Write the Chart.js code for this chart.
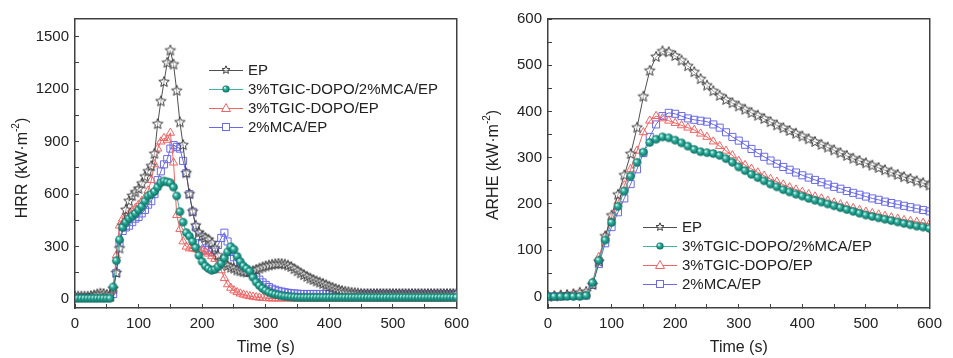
<!DOCTYPE html>
<html>
<head>
<meta charset="utf-8">
<script src="https://cdn.jsdelivr.net/npm/chart.js@4/dist/chart.umd.min.js"></script>
<style>
  html, body { margin:0; padding:0; background:#fff; }
  #wrap { position:relative; width:953px; height:358px; }
  #hrrBox { position:absolute; left:0; top:0; width:480px; height:358px; }
  #arheBox { position:absolute; left:480px; top:0; width:473px; height:358px; }
</style>
</head>
<body>
<div id="wrap">
  <div id="hrrBox"><canvas id="hrrChart"></canvas></div>
  <div id="arheBox"><canvas id="arheChart"></canvas></div>
</div>
<script>
/* DATA */

const seriesNames = ["EP", "3%TGIC-DOPO/2%MCA/EP", "3%TGIC-DOPO/EP", "2%MCA/EP"];

const hrrTime = [
  0,5,10,15,20,25,30,35,40,45,50,55,60,65,70,75,80,85,90,95,
  100,105,110,115,120,125,130,135,140,145,150,155,160,165,170,175,180,185,190,195,
  200,205,210,215,220,225,230,235,240,245,250,255,260,265,270,275,280,285,290,295,
  300,305,310,315,320,325,330,335,340,345,350,355,360,365,370,375,380,385,390,395,
  400,405,410,415,420,425,430,435,440,445,450,455,460,465,470,475,480,485,490,495,
  500,505,510,515,520,525,530,535,540,545,550,555,560,565,570,575,580,585,590,595,
  600
];

const hrrEP = [
  15,15,15,15,15,18,22,28,32,30,25,22,60,150,290,420,510,560,590,610,
  630,660,700,730,760,830,1000,1130,1240,1350,1420,1340,1190,1010,880,720,600,500,420,380,
  360,350,340,320,290,250,220,200,190,180,175,165,160,155,152,155,160,168,175,182,
  188,193,197,200,202,201,198,192,184,172,160,148,138,128,118,110,102,95,88,80,
  72,65,58,52,47,43,40,37,35,33,31,30,30,30,30,30,30,30,30,30,
  30,30,30,30,30,30,30,30,30,30,30,30,30,30,30,30,30,30,30,30,
  30
];

const hrrBoth = [
  5,5,5,5,5,5,5,5,5,5,5,5,70,220,340,410,440,460,475,490,
  510,530,560,590,600,615,640,665,675,670,665,640,590,500,440,380,360,330,295,250,
  215,190,175,165,170,185,205,235,270,300,285,245,215,190,175,160,125,98,78,62,
  50,40,33,28,24,20,17,15,13,12,11,10,10,10,10,10,10,10,10,10,
  10,10,10,10,10,10,10,10,10,10,10,10,10,10,10,10,10,10,10,10,
  10,10,10,10,10,10,10,10,10,10,10,10,10,10,10,10,10,10,10,10,
  10
];

const hrrTgic = [
  3,3,3,3,3,3,3,3,3,3,3,3,60,250,420,460,475,490,505,520,
  540,560,580,620,680,770,860,900,920,910,950,780,480,400,330,300,290,290,285,280,
  275,270,260,245,230,200,165,120,85,65,50,40,32,26,21,17,14,11,9,7,
  6,5,4,4,4,4,4,4,4,4,4,4,4,4,4,4,4,4,4,4,
  4,4,4,4,4,4,4,4,4,4,4,4,4,4,4,4,4,4,4,4,
  4,4,4,4,4,4,4,4,4,4,4,4,4,4,4,4,4,4,4,4,
  4
];

const hrrMca = [
  10,10,10,10,10,10,10,10,10,10,10,10,30,150,320,390,410,420,440,460,
  470,490,510,540,560,600,680,730,770,800,860,880,870,860,790,720,600,500,410,360,
  320,290,280,270,280,310,350,380,330,270,240,210,190,170,160,150,140,128,112,96,
  82,70,60,54,48,44,40,37,35,33,32,30,30,30,30,30,30,30,30,30,
  30,30,30,30,30,30,30,30,30,30,30,30,30,30,30,30,30,30,30,30,
  30,30,30,30,30,30,30,30,30,30,30,30,30,30,30,30,30,30,30,30,
  30
];

const arheTime = [
  0,10,20,30,40,50,60,70,80,90,100,110,120,130,140,150,160,170,180,190,
  200,210,220,230,240,250,260,270,280,290,300,310,320,330,340,350,360,370,380,390,
  400,410,420,430,440,450,460,470,480,490,500,510,520,530,540,550,560,570,580,590,
  600
];

const arheEP = [
  0,0,2,3,5,8,10,25,75,130,175,220,262,308,365,432,488,518,530,528,
  520,510,498,485,470,456,444,434,425,418,411,404,397,391,384,377,370,364,358,352,
  346,340,334,328,322,316,310,304,298,293,288,283,278,273,268,263,258,254,249,245,
  240
];

const arheBoth = [
  0,0,0,0,0,0,2,30,78,122,160,195,228,260,290,312,333,340,345,343,
  338,332,325,318,313,311,309,305,298,290,280,272,264,257,250,243,237,231,226,221,
  217,212,208,204,200,196,192,188,184,180,176,173,170,167,164,161,158,155,152,150,
  147
];

const arheTgic = [
  2,2,3,3,4,4,5,30,85,130,170,205,240,275,315,355,380,390,385,380,
  375,370,365,360,352,345,335,325,315,305,293,284,276,268,261,254,248,242,236,231,
  226,221,216,212,207,203,199,195,191,187,183,180,177,174,171,168,165,163,161,159,
  157
];

const arheMca = [
  0,0,0,1,1,2,2,25,70,115,150,182,212,243,275,310,345,372,390,397,
  395,390,385,382,380,378,372,365,355,345,337,328,319,310,302,294,287,280,274,268,
  262,257,252,247,242,237,233,228,224,220,216,212,209,205,202,199,196,193,190,187,
  184
];

const timeTicks = [0, 100, 200, 300, 400, 500, 600];
const hrrTicks = [0, 300, 600, 900, 1200, 1500];
const arheTicks = [0, 100, 200, 300, 400, 500, 600];

/* MARKERS */

const FONT = "'Liberation Sans', Arial, sans-serif";
const TEXT = "#222";
const FRAME = "#404040";

function starImage(r){
  const c = document.createElement("canvas");
  const s = Math.ceil(r*2+3);
  c.width = s; c.height = s;
  const ctx = c.getContext("2d");
  ctx.strokeStyle = "#3a3a3a";
  ctx.lineWidth = 1;
  ctx.beginPath();
  for(let i=0;i<10;i++){
    const a = -Math.PI/2 + i*Math.PI/5;
    const rr = i%2 ? r*0.45 : r;
    const x = s/2 + rr*Math.cos(a);
    const y = s/2 + rr*Math.sin(a);
    i ? ctx.lineTo(x,y) : ctx.moveTo(x,y);
  }
  ctx.closePath();
  ctx.fillStyle = "rgba(255,255,255,0.5)";
  ctx.fill();
  ctx.stroke();
  return c;
}

function ballImage(r){
  const c = document.createElement("canvas");
  const s = Math.ceil(r*2+2);
  c.width = s; c.height = s;
  const ctx = c.getContext("2d");
  const g = ctx.createRadialGradient(s/2-r*0.35, s/2-r*0.35, r*0.1, s/2, s/2, r);
  g.addColorStop(0, "#d8fbf3");
  g.addColorStop(0.35, "#2fb1a0");
  g.addColorStop(1, "#0b6b5f");
  ctx.fillStyle = g;
  ctx.beginPath();
  ctx.arc(s/2, s/2, r, 0, Math.PI*2);
  ctx.fill();
  return c;
}

const starBig = starImage(5.5);
const starSmall = starImage(4.2);
const ballBig = ballImage(4.3);
const ballSmall = ballImage(3.6);

const styles = [
  { line:"#505050", pointStyle:starBig, legendImg:starSmall, radius:5, fill:"transparent", order:1 },
  { line:"#3fb3a4", pointStyle:ballBig, legendImg:ballSmall, radius:4.3, fill:"transparent", order:0 },
  { line:"#f06464", pointStyle:"triangle", radius:4.8, fill:"rgba(255,255,255,0)", order:2 },
  { line:"#6a6ae8", pointStyle:"rect", radius:5, fill:"rgba(255,255,255,0)", order:3 }
];

function buildDatasets(time, series){
  return series.map((vals, i) => ({
    label: seriesNames[i],
    data: vals.map((v, k) => ({ x: time[k], y: v })),
    borderColor: styles[i].line,
    borderWidth: 1,
    pointStyle: styles[i].pointStyle,
    pointRadius: styles[i].radius,
    pointBorderColor: styles[i].line,
    pointBackgroundColor: styles[i].fill,
    pointBorderWidth: 1,
    tension: 0,
    order: styles[i].order
  }));
}

// major ticks plus a minor tick halfway between each pair
function withMinors(major){
  const out = [];
  major.forEach((v, i) => {
    out.push({ value: v });
    if(i < major.length - 1) out.push({ value: (v + major[i+1]) / 2 });
  });
  return out;
}

/* DECORATION (y title, legend) */

function drawYTitle(chart, t){
  const ctx = chart.ctx;
  ctx.save();
  ctx.translate(t.x, t.y);
  ctx.rotate(-Math.PI/2);
  ctx.fillStyle = TEXT;
  const main = "16px " + FONT;
  const sup = "10px " + FONT;
  ctx.font = main;
  const p1 = t.text + " (kW\u00b7m";
  const w1 = ctx.measureText(p1).width;
  ctx.font = sup;
  const w2 = ctx.measureText("-2").width;
  ctx.font = main;
  const w3 = ctx.measureText(")").width;
  let x = -(w1 + w2 + w3)/2;
  ctx.textBaseline = "middle";
  ctx.fillText(p1, x, 0);
  x += w1;
  ctx.font = sup;
  ctx.fillText("-2", x, -7);
  x += w2;
  ctx.font = main;
  ctx.fillText(")", x, 0);
  ctx.restore();
}

function drawLegend(chart, L){
  const ctx = chart.ctx;
  ctx.save();
  chart.data.datasets.forEach((ds, i) => {
    const y = L.y + i*L.dy;
    const st = styles[i];
    ctx.strokeStyle = st.line;
    ctx.lineWidth = 1;
    ctx.beginPath();
    ctx.moveTo(L.x1, y + 0.5);
    ctx.lineTo(L.x2, y + 0.5);
    ctx.stroke();
    const mx = (L.x1 + L.x2)/2;
    if(st.legendImg){
      const im = st.legendImg;
      ctx.drawImage(im, Math.round(mx - im.width/2), Math.round(y - im.height/2));
    } else if(st.pointStyle === "triangle"){
      ctx.fillStyle = "#fff";
      ctx.beginPath();
      ctx.moveTo(mx, y - 4.5);
      ctx.lineTo(mx + 4.5, y + 3.5);
      ctx.lineTo(mx - 4.5, y + 3.5);
      ctx.closePath();
      ctx.fill();
      ctx.stroke();
    } else {
      ctx.fillStyle = "#fff";
      ctx.fillRect(mx - 3.5, y - 3.5, 7, 7);
      ctx.strokeRect(mx - 3.5, y - 3.5, 7, 7);
    }
    ctx.fillStyle = TEXT;
    ctx.font = "15px " + FONT;
    ctx.textBaseline = "middle";
    ctx.fillText(ds.label, L.textX, y + 1);
  });
  ctx.restore();
}

/* CHARTS */

function makeChart(id, cfg){
  const border = { display: true, color: FRAME, width: 1.5 };
  // tick marks drawn by Chart.js itself, pointing into the plot
  const innerTicks = { display: true, drawOnChartArea: false, drawTicks: true,
                       tickLength: -4, color: FRAME, tickColor: FRAME, tickWidth: 1 };
  return new Chart(document.getElementById(id), {
    type: "line",
    data: { datasets: buildDatasets(cfg.time, cfg.series) },
    options: {
      responsive: true,
      maintainAspectRatio: false,
      animation: false,
      layout: { padding: { top: 18, right: cfg.padRight, left: 0, bottom: 0 } },
      plugins: {
        legend: { display: false },
        tooltip: { enabled: false }
      },
      scales: {
        x: {
          type: "linear",
          position: "bottom",
          min: 0,
          max: 600,
          afterBuildTicks: s => { s.ticks = withMinors(timeTicks); },
          afterFit: s => { s.height = 50; },
          grid: innerTicks,
          border: border,
          ticks: { color: TEXT, font: { family: FONT, size: 15 }, padding: 11, maxRotation: 0,
                   autoSkip: false,
                   callback: v => timeTicks.includes(v) ? String(v) : "" },
          title: { display: true, text: "Time (s)", color: TEXT,
                   font: { family: FONT, size: 16 }, padding: { top: 0, bottom: 1 } }
        },
        y: {
          position: "left",
          min: cfg.yMin,
          max: cfg.yMax,
          afterBuildTicks: s => { s.ticks = withMinors(cfg.yTicks); },
          afterFit: s => { s.width = cfg.yWidth; },
          grid: innerTicks,
          border: border,
          ticks: { color: TEXT, font: { family: FONT, size: 15 }, padding: 10,
                   autoSkip: false,
                   callback: v => cfg.yTicks.includes(v) ? String(v) : "" }
        },
        xTop: {
          type: "linear",
          position: "top",
          display: true,
          min: 0,
          max: 600,
          afterFit: s => { s.height = 0; },
          grid: { display: false },
          border: border,
          ticks: { display: false }
        },
        yRight: {
          type: "linear",
          position: "right",
          display: true,
          min: cfg.yMin,
          max: cfg.yMax,
          afterFit: s => { s.width = 0; },
          grid: { display: false },
          border: border,
          ticks: { display: false }
        }
      }
    },
    plugins: [{
      id: "decor_" + id,
      afterDraw(chart){
        drawYTitle(chart, cfg.yTitle);
        drawLegend(chart, cfg.legend);
      }
    }]
  });
}

makeChart("hrrChart", {
  time: hrrTime,
  series: [hrrEP, hrrBoth, hrrTgic, hrrMca],
  yMin: -50, yMax: 1600, yTicks: hrrTicks, yWidth: 75, padRight: 13,
  yTitle: { x: 23, y: 168, text: "HRR" },
  legend: { x1: 209, x2: 243, y: 70, dy: 19, textX: 248 }
});

makeChart("arheChart", {
  time: arheTime,
  series: [arheEP, arheBoth, arheTgic, arheMca],
  yMin: -25, yMax: 600, yTicks: arheTicks, yWidth: 68, padRight: 13,
  yTitle: { x: 14, y: 165, text: "ARHE" },
  legend: { x1: 163, x2: 197, y: 227, dy: 19, textX: 202 }
});
</script>
</body>
</html>
